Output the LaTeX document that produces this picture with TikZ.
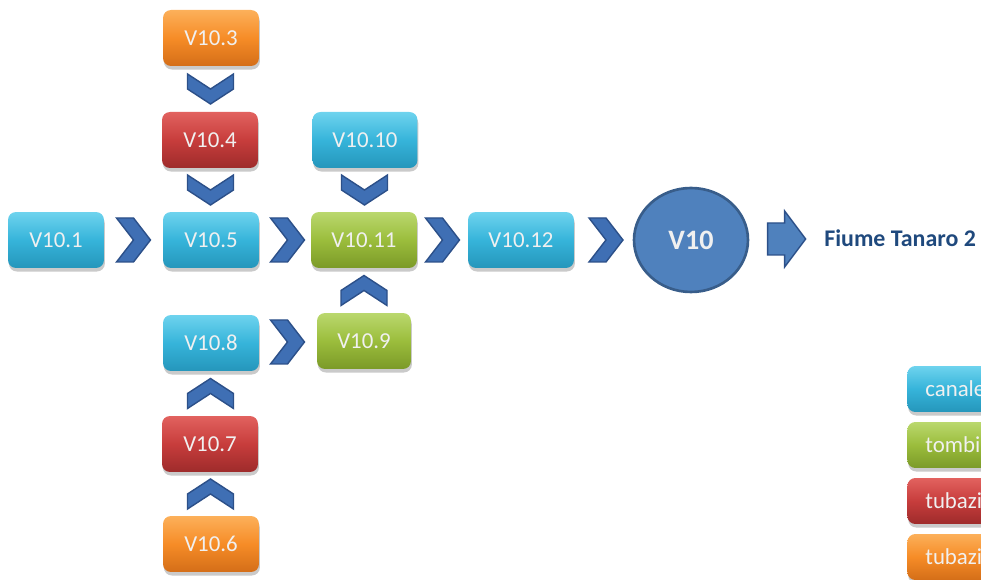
\documentclass[tikz,border=0pt]{standalone}
\usepackage{fontspec}
\setmainfont{Carlito}
\usepackage{tikz}
\usetikzlibrary{calc, shadows, shapes.geometric}
\definecolor{cyantop}{HTML}{6ED3EE}
\definecolor{cyanmid}{HTML}{36B4DA}
\definecolor{cyanbot}{HTML}{2596BB}
\definecolor{greentop}{HTML}{BAD86E}
\definecolor{greenmid}{HTML}{9BBD3C}
\definecolor{greenbot}{HTML}{7B9A28}
\definecolor{redtop}{HTML}{E2625F}
\definecolor{redmid}{HTML}{C73D3C}
\definecolor{redbot}{HTML}{9E2B2B}
\definecolor{orangetop}{HTML}{FCB05A}
\definecolor{orangemid}{HTML}{F68C27}
\definecolor{orangebot}{HTML}{D46E18}
\definecolor{chevfill}{HTML}{3F6FB4}
\definecolor{chevline}{HTML}{2C5089}
\definecolor{pozzofill}{HTML}{4F81BD}
\definecolor{pozzoline}{HTML}{385D8A}
\definecolor{fiumeblue}{HTML}{1F497D}

\tikzset{
  box/.style={rounded corners=0.16cm, minimum width=1.92cm, minimum height=1.12cm,
    inner sep=0pt, text=white!94!black, font=\fontsize{13}{15}\selectfont,
    drop shadow={shadow xshift=0.5pt, shadow yshift=-2pt, opacity=0.35, fill=black!60}},
  canale/.style={box, top color=cyantop, bottom color=cyanbot, middle color=cyanmid},
  tombino/.style={box, top color=greentop, bottom color=greenbot, middle color=greenmid},
  tubo/.style={box, top color=redtop, bottom color=redbot, middle color=redmid},
  tuboB/.style={box, top color=orangetop, bottom color=orangebot, middle color=orangemid},
  legenda/.style={anchor=west, minimum width=2.4cm, minimum height=0.92cm,
    text width=2.2cm, align=left, inner xsep=0.36cm},
  pics/chevr/.style={code={
    \draw[chevline, fill=chevfill, thick, line join=miter]
      (-17,-22) -- (0,-22) -- (17,0) -- (0,22) -- (-17,22) -- (0,0) -- cycle;}},
  pics/chevd/.style={code={
    \draw[chevline, fill=chevfill, thick, line join=miter]
      (-23,-15) -- (0,0) -- (23,-15) -- (23,0) -- (0,15) -- (-23,0) -- cycle;}},
  pics/freccia/.style={code={
    \draw[chevline, fill=pozzofill, thick]
      (-19,-16) -- (-2,-16) -- (-2,-28) -- (19,0) -- (-2,28) -- (-2,16) -- (-19,16) -- cycle;}}
}

\begin{document}
\begin{tikzpicture}[x=0.02cm, y=-0.02cm]
\useasboundingbox (0,0) rectangle (981,580);
\clip (0,0) rectangle (981,580);

% nodi della rete
\node[canale] (v101) at (56,240) {V10.1};
\node[canale] (v105) at (211,240) {V10.5};
\node[tombino, minimum width=2.12cm] (v1011) at (364,240) {V10.11};
\node[canale, minimum width=2.12cm] (v1012) at (521,240) {V10.12};
\node[tuboB] (v103) at (211,38) {V10.3};
\node[tubo] (v104) at (210,140) {V10.4};
\node[canale, minimum width=2.1cm] (v1010) at (365,140) {V10.10};
\node[canale] (v108) at (211,343) {V10.8};
\node[tombino, minimum width=1.88cm] (v109) at (364,341) {V10.9};
\node[tubo] (v107) at (210,444) {V10.7};
\node[tuboB] (v106) at (211,544) {V10.6};

% recapito
\node[ellipse, draw=pozzoline, fill=pozzofill, line width=1.5pt, minimum width=2.28cm,
  minimum height=2.08cm, text=white!94!black, font=\fontsize{16}{18}\selectfont\bfseries] (v10) at (691,240) {V10};
\node[anchor=west, inner sep=0pt, text=fiumeblue, font=\fontsize{13.6}{16}\selectfont\bfseries] (fiume) at (824,238) {Fiume Tanaro 2};

% frecce
\pic at ($(v101)!0.5!(v105)$) {chevr};
\pic at ($(v105)!0.5!(v1011)$) {chevr};
\pic at ($(v1011)!0.5!(v1012)$) {chevr};
\pic at ($(v1012)!0.5!(v10)$) {chevr};
\pic at ($(v108)!0.5!(v109)$) {chevr};
\pic at ($(v103)!0.5!(v104)$) {chevd};
\pic at ($(v104)!0.5!(v105)$) {chevd};
\pic at ($(v1010)!0.5!(v1011)$) {chevd};
\pic[yscale=-1] at ($(v109)!0.5!(v1011)$) {chevd};
\pic[yscale=-1] at ($(v107)!0.5!(v108)$) {chevd};
\pic[yscale=-1] at ($(v106)!0.5!(v107)$) {chevd};
\pic at ($(v10.east)!0.5!(fiume.west)$) {freccia};

% legenda (tagliata al bordo come nell'originale)
\node[canale, legenda] (leg1) at (907,389) {canale};
\node[tombino, legenda] (leg2) at (907,445) {tombino};
\node[tubo, legenda] (leg3) at (907,501) {tubazione};
\node[tuboB, legenda] (leg4) at (907,557) {tubazione};
\end{tikzpicture}
\end{document}
